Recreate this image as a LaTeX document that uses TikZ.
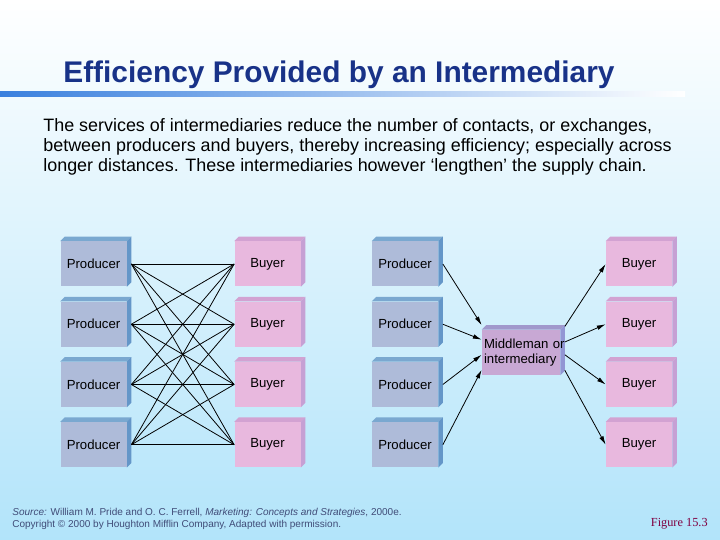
\documentclass[tikz,border=0pt]{standalone}
\usepackage{fontspec}
\setmainfont{Liberation Sans}
\newfontfamily\figfont{Liberation Serif}
\usepackage{tikz}
\usetikzlibrary{calc,positioning,arrows.meta,backgrounds}
\definecolor{bgblue}{RGB}{178,228,250}
\definecolor{barblue}{RGB}{58,128,222}
\definecolor{titleblue}{RGB}{24,50,136}
\definecolor{prodfront}{RGB}{174,187,217}
\definecolor{prodtop}{RGB}{122,168,208}
\definecolor{prodside}{RGB}{100,150,200}
\definecolor{buyfront}{RGB}{232,184,222}
\definecolor{buytop}{RGB}{210,162,210}
\definecolor{buyside}{RGB}{198,160,212}
\definecolor{midfront}{RGB}{200,168,212}
\definecolor{midtop}{RGB}{160,152,204}
\definecolor{midside}{RGB}{146,150,212}
\definecolor{srcgray}{RGB}{64,76,120}
\definecolor{figred}{RGB}{128,0,64}
\newcommand{\dep}{0.09}
% top and right faces of a box node, kept behind its text
\newcommand{\boxfaces}[3]{%
  \begin{pgfonlayer}{background}
  \fill[#2] (#1.north west) -- ++(\dep,\dep) -- ([shift={(\dep,\dep)}]#1.north east) -- (#1.north east) -- cycle;
  \fill[#3] (#1.north east) -- ++(\dep,\dep) -- ([shift={(\dep,\dep)}]#1.south east) -- (#1.south east) -- cycle;
  \end{pgfonlayer}
}
\tikzset{
    producer element/.style={
        fill=prodfront,inner sep=0pt,
        minimum width=1.32cm,minimum height=0.9cm,
        font=\fontsize{7.5}{9}\selectfont
    },
    buyer element/.style={
        producer element,fill=buyfront
    },
    middle element/.style={
        fill=midfront,inner xsep=0.04cm,inner ysep=0pt,
        minimum height=0.9cm,
        text width=1.48cm,align=left,
        font=\fontsize{7.5}{8.5}\selectfont
    },
    link/.style={black,line width=0.45pt},
    >={Latex[length=5pt,width=2.6pt]}
}
\begin{document}
\begin{tikzpicture}
\useasboundingbox (0,0) rectangle (14.4,10.8);
\begin{pgfonlayer}{background}
\shade[top color=white,bottom color=bgblue] (0,0) rectangle (14.4,10.8);
\end{pgfonlayer}
\shade[left color=barblue,right color=white] (0,8.86) rectangle (13.7,8.96);
\node[anchor=west,font=\fontsize{17}{20}\selectfont\bfseries,text=titleblue,inner sep=0pt] (title) at (1.26,9.3) {Efficiency Provided by an Intermediary};
\node[anchor=north west,align=left,inner sep=0pt,font=\fontsize{10.2}{11.4}\selectfont] (intro) at (0.86,8.43) {The services of intermediaries reduce the number of contacts, or exchanges,\\between producers and buyers, thereby increasing efficiency; especially across\\longer distances. These intermediaries however `lengthen' the supply chain.};
% left: direct exchanges
\foreach \i in {0,...,3} {
    \node[producer element] (prodL\i) at (1.87,5.52-1.205*\i) {Producer};
    \boxfaces{prodL\i}{prodtop}{prodside}
    \node[buyer element] (buyL\i) at (5.35,5.52-1.205*\i) {Buyer};
    \boxfaces{buyL\i}{buytop}{buyside}
}
\foreach \i in {0,...,3}
    \foreach \j in {0,...,3}
        \draw[link] ([xshift=\dep cm]prodL\i.east) -- (buyL\j.west);
% right: through a middleman
\node[middle element] (mid) at (10.42,3.75) {\mbox{Middleman or}\\\mbox{intermediary}};
\boxfaces{mid}{midtop}{midside}
\foreach \i/\f/\g in {0/-0.1/-0.07,1/0.22/0.27,2/0.55/0.55,3/0.88/0.89} {
    \node[producer element] (prodR\i) at (8.1,5.52-1.205*\i) {Producer};
    \boxfaces{prodR\i}{prodtop}{prodside}
    \node[buyer element] (buyR\i) at (12.78,5.52-1.205*\i) {Buyer};
    \boxfaces{buyR\i}{buytop}{buyside}
    \draw[link,->] ([xshift=\dep cm]prodR\i.east) -- ($(mid.north west)!\f!(mid.south west)$);
    \draw[link,->] ($([xshift=\dep cm]mid.north east)!\g!([xshift=\dep cm]mid.south east)$) -- (buyR\i.west);
}
\node[anchor=west,align=left,inner sep=0pt,text=srcgray,font=\fontsize{5.7}{6.6}\selectfont] (source) at (0.24,0.42) {\textit{Source:} William M. Pride and O. C. Ferrell, \textit{Marketing: Concepts and Strategies}, 2000e.\\Copyright \textcopyright{} 2000 by Houghton Mifflin Company, Adapted with permission.};
\node[anchor=east,inner sep=0pt,text=figred,font=\figfont\fontsize{7}{8}\selectfont] (fig) at (14.16,0.32) {Figure 15.3};
\end{tikzpicture}
\end{document}
